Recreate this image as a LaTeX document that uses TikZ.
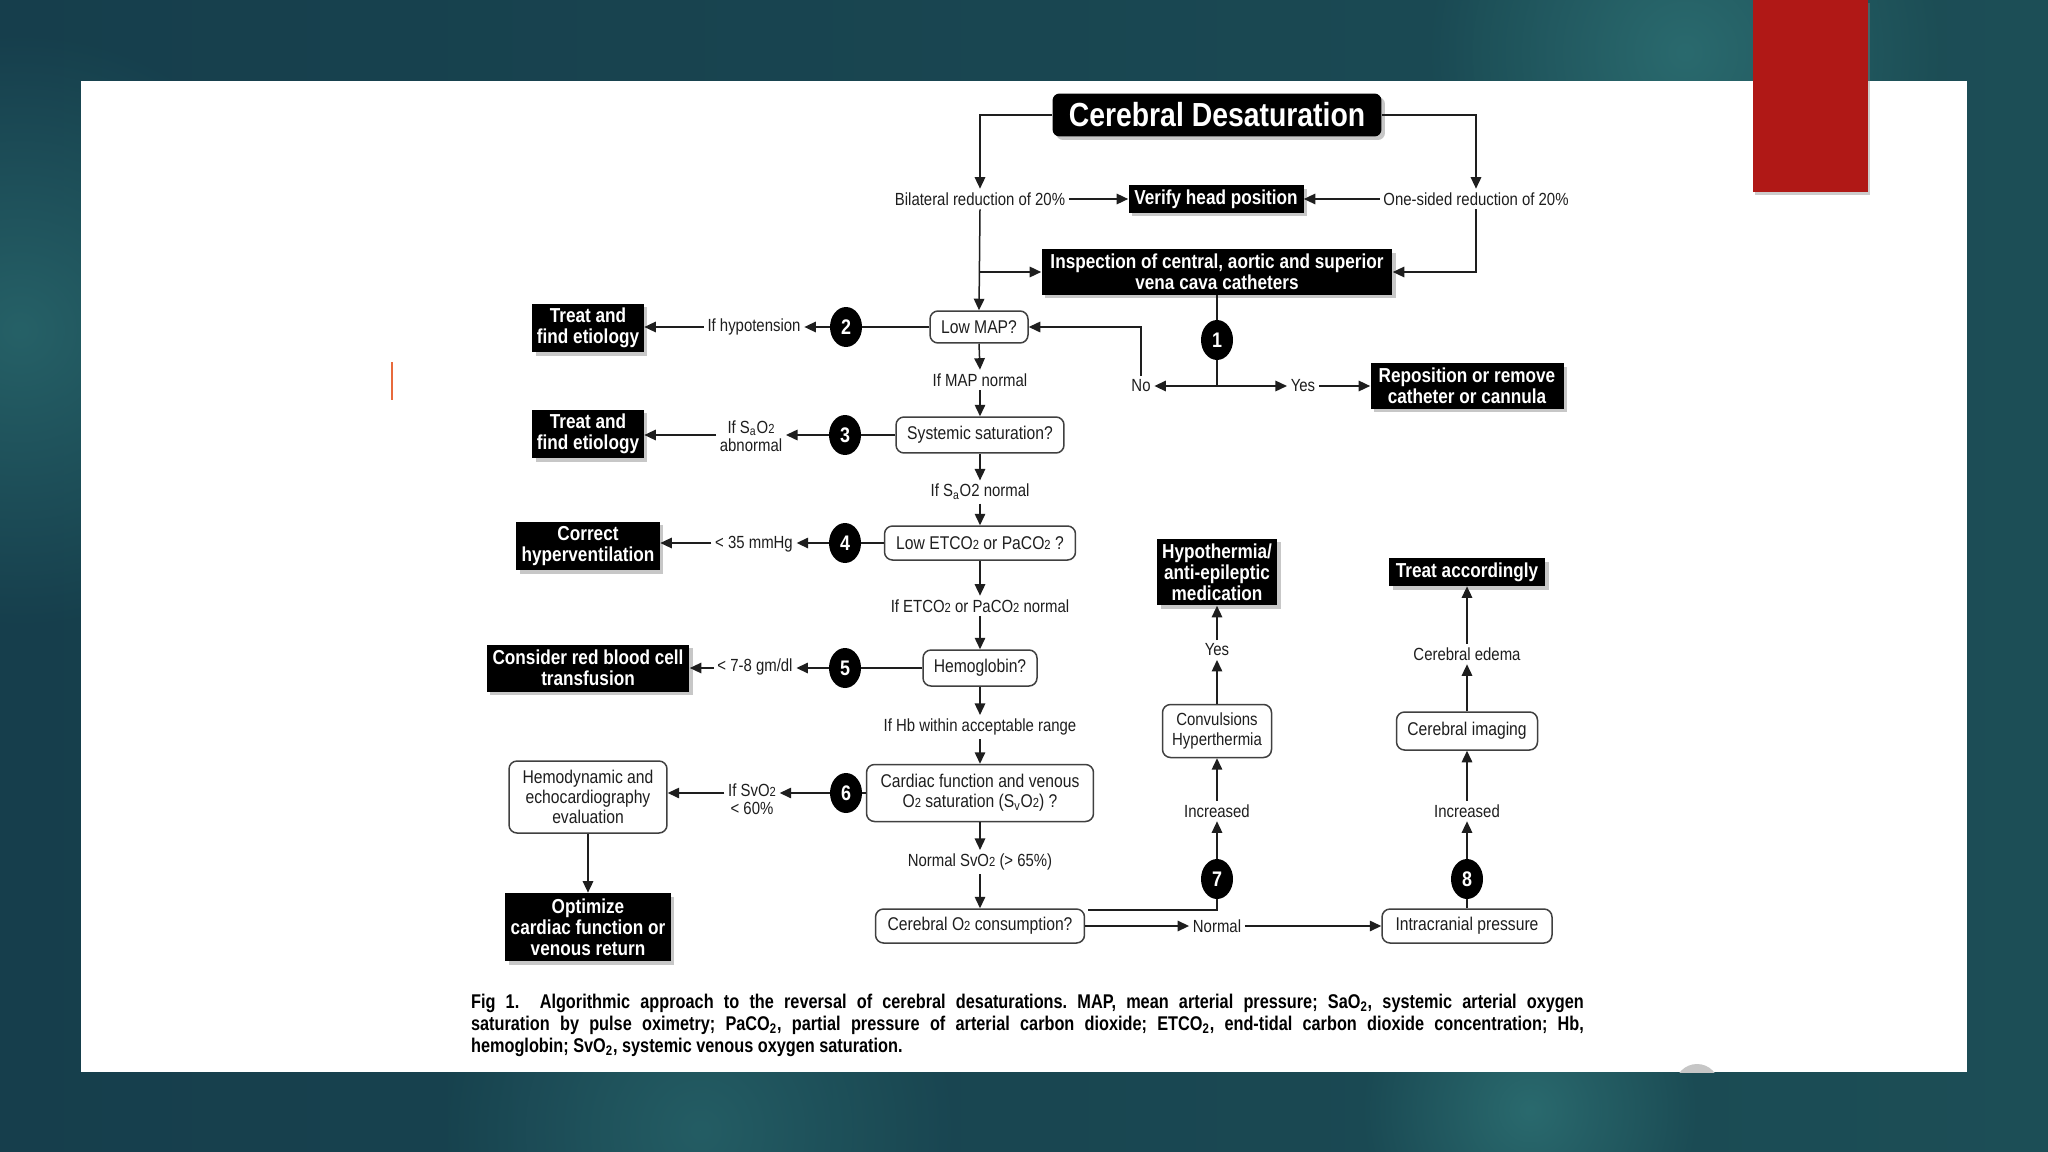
\documentclass[tikz,border=0pt]{standalone}
\usepackage{fontspec}
\setmainfont{Liberation Sans}[FakeStretch=0.85]
\newfontfamily\capfont{Liberation Sans}[FakeStretch=0.82]
\usetikzlibrary{arrows.meta,shadows,calc,shapes.geometric,fadings}
\definecolor{bgL}{RGB}{22,62,76}
\definecolor{bgR}{RGB}{28,78,86}
\definecolor{glowc}{RGB}{42,106,110}
\definecolor{redc}{RGB}{176,24,22}
\definecolor{cursorc}{RGB}{232,106,60}
\definecolor{ink}{RGB}{30,30,30}
\newcommand\lowsub[1]{{\fontsize{7.5}{7.5}\selectfont #1}}
\tikzfading[name=glowfade, inner color=transparent!0, outer color=transparent!100]
\begin{document}
\begin{tikzpicture}[x=0.02cm,y=-0.02cm,
  conn/.style={draw=ink, line width=0.03cm},
  arr/.style={conn, -{Triangle[length=0.23cm,width=0.21cm]}},
  lbl/.style={font=\fontsize{10}{10.5}\selectfont, inner sep=2pt, align=center, text=ink},
  wbox/.style={draw=black!75, line width=0.03cm, rounded corners=0.16cm, fill=white, align=center, text=ink, font=\fontsize{10.5}{11.5}\selectfont, inner sep=0pt},
  bbox/.style={fill=black, text=white, align=center, font=\bfseries\fontsize{11.5}{12}\selectfont, inner sep=0pt,
     drop shadow={shadow xshift=0.07cm, shadow yshift=-0.07cm, fill=black!40, opacity=0.55}},
  num/.style={ellipse, fill=black, text=white, font=\bfseries\fontsize{12}{12}\selectfont, minimum width=0.64cm, minimum height=0.8cm, inner sep=0pt}
]
\useasboundingbox (0,0) rectangle (2048,1152);
% background
\shade[left color=bgL, right color=bgR] (0,0) rectangle (2048,1152);
\fill[glowc, path fading=glowfade] (1685,52) circle (260);
\fill[glowc, path fading=glowfade] (1530,1110) circle (170);
\fill[glowc!80!bgL, path fading=glowfade] (20,330) circle (300);
\fill[glowc!70!bgL, path fading=glowfade] (700,1130) circle (260);
% white panel
\fill[white] (81,81) rectangle (1967,1072);
\begin{scope}
  \clip (81,81) rectangle (1967,1072);
  \fill[gray!45] (1697,1086) circle (22);
\end{scope}
% red tab
\fill[redc, drop shadow={shadow xshift=0.04cm, shadow yshift=-0.06cm, fill=black!50, opacity=0.4}] (1753,0) rectangle (1868,192);
% cursor
\draw[cursorc, line width=0.05cm] (392,362) -- (392,400);

% nodes
\node[bbox, rounded corners=0.14cm, minimum width=6.58cm, minimum height=0.86cm, font=\bfseries\fontsize{19}{20}\selectfont] (title) at (1217,115) {Cerebral Desaturation};
\node[lbl] (bil) at (980,199) {Bilateral reduction of 20\%};
\node[bbox, minimum width=3.5cm, minimum height=0.56cm] (verify) at (1216,199) {Verify head position};
\node[lbl] (one) at (1476,199) {One-sided reduction of 20\%};
\node[bbox, minimum width=7.02cm, minimum height=0.92cm] (insp) at (1217,272) {Inspection of central, aortic and superior\\vena cava catheters};

\node[wbox, minimum width=1.96cm, minimum height=0.64cm] (lowmap) at (979,327) {Low MAP?};
\node[num] (c2) at (846,327) {2};
\node[lbl] (hypo) at (754,327) {If hypotension};
\node[bbox, minimum width=2.24cm, minimum height=0.98cm] (treat1) at (588,328) {Treat and\\find etiology};
\node[num] (c1) at (1217,340) {1};
\node[lbl] (no) at (1141,386) {No};
\node[lbl] (yes) at (1303,386) {Yes};
\node[bbox, minimum width=3.86cm, minimum height=0.92cm] (repos) at (1467,386) {Reposition or remove\\catheter or cannula};

\node[lbl] (mapn) at (980,380) {If MAP normal};
\node[wbox, minimum width=3.36cm, minimum height=0.72cm] (sys) at (980,435) {Systemic saturation?};
\node[num] (c3) at (845,435) {3};
\node[lbl] (saab) at (751,436) {If S\textsubscript{a}O\lowsub{2}\\abnormal};
\node[bbox, minimum width=2.24cm, minimum height=0.98cm] (treat2) at (588,434) {Treat and\\find etiology};

\node[lbl] (san) at (980,492) {If S\textsubscript{a}O2 normal};
\node[wbox, minimum width=3.82cm, minimum height=0.68cm] (etco) at (980,543) {Low ETCO\lowsub{2} or PaCO\lowsub{2} ?};
\node[num] (c4) at (845,543) {4};
\node[lbl] (mmhg) at (754,544) {< 35 mmHg};
\node[bbox, minimum width=2.88cm, minimum height=0.98cm] (corr) at (588,546) {Correct\\hyperventilation};

\node[lbl] (etcn) at (980,606) {If ETCO\lowsub{2} or PaCO\lowsub{2} normal};
\node[wbox, minimum width=2.28cm, minimum height=0.72cm] (hb) at (980,668) {Hemoglobin?};
\node[num] (c5) at (845,668) {5};
\node[lbl] (gm) at (755,667) {< 7-8 gm/dl};
\node[bbox, minimum width=4.06cm, minimum height=0.94cm] (rbc) at (588,668) {Consider red blood cell\\transfusion};

\node[lbl] (hbr) at (980,727) {If Hb within acceptable range};
\node[wbox, minimum width=4.54cm, minimum height=1.14cm] (card) at (980,793) {Cardiac function and venous\\O\lowsub{2} saturation (S\textsubscript{v}O\lowsub{2}) ?};
\node[num] (c6) at (846,793) {6};
\node[lbl] (svo) at (752,799) {If SvO\lowsub{2}\\< 60\%};
\node[wbox, minimum width=3.16cm, minimum height=1.44cm] (hemo) at (588,797) {Hemodynamic and\\echocardiography\\evaluation};
\node[bbox, minimum width=3.32cm, minimum height=1.36cm] (opt) at (588,927) {Optimize\\cardiac function or\\venous return};

\node[lbl] (svn) at (980,862) {Normal SvO\lowsub{2} (> 65\%)};
\node[wbox, minimum width=4.18cm, minimum height=0.68cm] (cons) at (980,926) {Cerebral O\lowsub{2} consumption?};
\node[num] (c7) at (1217,879) {7};
\node[lbl] (normal) at (1217,926) {Normal};
\node[wbox, minimum width=3.4cm, minimum height=0.68cm] (icp) at (1467,926) {Intracranial pressure};
\node[num] (c8) at (1467,879) {8};
\node[lbl] (inc1) at (1217,811) {Increased};
\node[lbl] (inc2) at (1467,811) {Increased};
\node[wbox, minimum width=2.18cm, minimum height=1.06cm, font=\fontsize{10}{11}\selectfont] (conv) at (1217,731) {Convulsions\\Hyperthermia};
\node[lbl] (yes2) at (1217,650) {Yes};
\node[bbox, minimum width=2.4cm, minimum height=1.34cm] (hypoth) at (1217,572) {Hypothermia/\\anti-epileptic\\medication};
\node[wbox, minimum width=2.82cm, minimum height=0.76cm] (img) at (1467,731) {Cerebral imaging};
\node[lbl] (edema) at (1467,654) {Cerebral edema};
\node[bbox, minimum width=3.12cm, minimum height=0.56cm] (tacc) at (1467,572) {Treat accordingly};

% caption
\node[font=\capfont\bfseries\fontsize{11.3}{12.5}\selectfont, text width=22.26cm, align=justify, inner sep=0pt, text=black] (cap) at (1027.5,1025)
{\frenchspacing Fig 1.\ \ Algorithmic approach to the reversal of cerebral desaturations. MAP, mean arterial pressure; SaO\textsubscript{2}, systemic arterial oxygen\linebreak
saturation by pulse oximetry; PaCO\textsubscript{2}, partial pressure of arterial carbon dioxide; ETCO\textsubscript{2}, end-tidal carbon dioxide concentration; Hb,\linebreak
hemoglobin; SvO\textsubscript{2}, systemic venous oxygen saturation.};

% connectors: top
\draw[arr] (title.west) -| (bil.north);
\draw[arr] (title.east) -| (one.north);
\draw[arr] (bil.east) -- (verify.west);
\draw[arr] (one.west) -- (verify.east);
\draw[arr] (bil.south) -- (lowmap.north);
\draw[arr] (bil.south |- insp.west) -- (insp.west);
\draw[arr] (one.south) |- (insp.east);
\draw[conn] (insp.south) -- (c1.north);
\coordinate (j1) at (c1.center |- no.center);
\draw[conn] (c1.south) -- (j1);
\draw[arr] (j1) -- (no.east);
\draw[arr] (j1) -- (yes.west);
\draw[arr] (yes.east) -- (yes.east -| repos.west);
\draw[arr] (no.north) |- (lowmap.east);
% step 2
\draw[conn] (lowmap.west) -- (c2.east);
\draw[arr] (c2.west) -- (c2.west -| hypo.east);
\draw[arr] (c2.west -| hypo.west) -- (c2.west -| treat1.east);
\draw[arr] (lowmap.south) -- (mapn.north);
\draw[arr] (mapn.south) -- (sys.north);
% step 3
\draw[conn] (sys.west) -- (c3.east);
\draw[arr] (c3.west) -- (c3.west -| saab.east);
\draw[arr] (c3.west -| saab.west) -- (c3.west -| treat2.east);
\draw[arr] (sys.south) -- (san.north);
\draw[arr] (san.south) -- (etco.north);
% step 4
\draw[conn] (etco.west) -- (c4.east);
\draw[arr] (c4.west) -- (c4.west -| mmhg.east);
\draw[arr] (c4.west -| mmhg.west) -- (c4.west -| corr.east);
\draw[arr] (etco.south) -- (etcn.north);
\draw[arr] (etcn.south) -- (hb.north);
% step 5
\draw[conn] (hb.west) -- (c5.east);
\draw[arr] (c5.west) -- (c5.west -| gm.east);
\draw[arr] (c5.west -| gm.west) -- (c5.west -| rbc.east);
\draw[arr] (hb.south) -- (hbr.north);
\draw[arr] (hbr.south) -- (card.north);
% step 6
\draw[conn] (card.west) -- (c6.east);
\draw[arr] (c6.west) -- (c6.west -| svo.east);
\draw[arr] (c6.west -| svo.west) -- (c6.west -| hemo.east);
\draw[arr] (hemo.south) -- (opt.north);
\draw[arr] (card.south) -- (svn.north);
\draw[arr] (svn.south) -- (cons.north);
% bottom
\draw[conn] ([xshift=0.06cm,yshift=0.32cm]cons.east) -| (c7.south);
\draw[arr] (cons.east) -- (normal.west);
\draw[arr] (normal.east) -- (icp.west);
\draw[conn] (icp.north) -- (c8.south);
\draw[arr] (c7.north) -- (inc1.south);
\draw[arr] (inc1.north) -- (conv.south);
\draw[arr] (conv.north) -- (yes2.south);
\draw[arr] (yes2.north) -- (hypoth.south);
\draw[arr] (c8.north) -- (inc2.south);
\draw[arr] (inc2.north) -- (img.south);
\draw[arr] (img.north) -- (edema.south);
\draw[arr] (edema.north) -- (tacc.south);
\end{tikzpicture}
\end{document}
